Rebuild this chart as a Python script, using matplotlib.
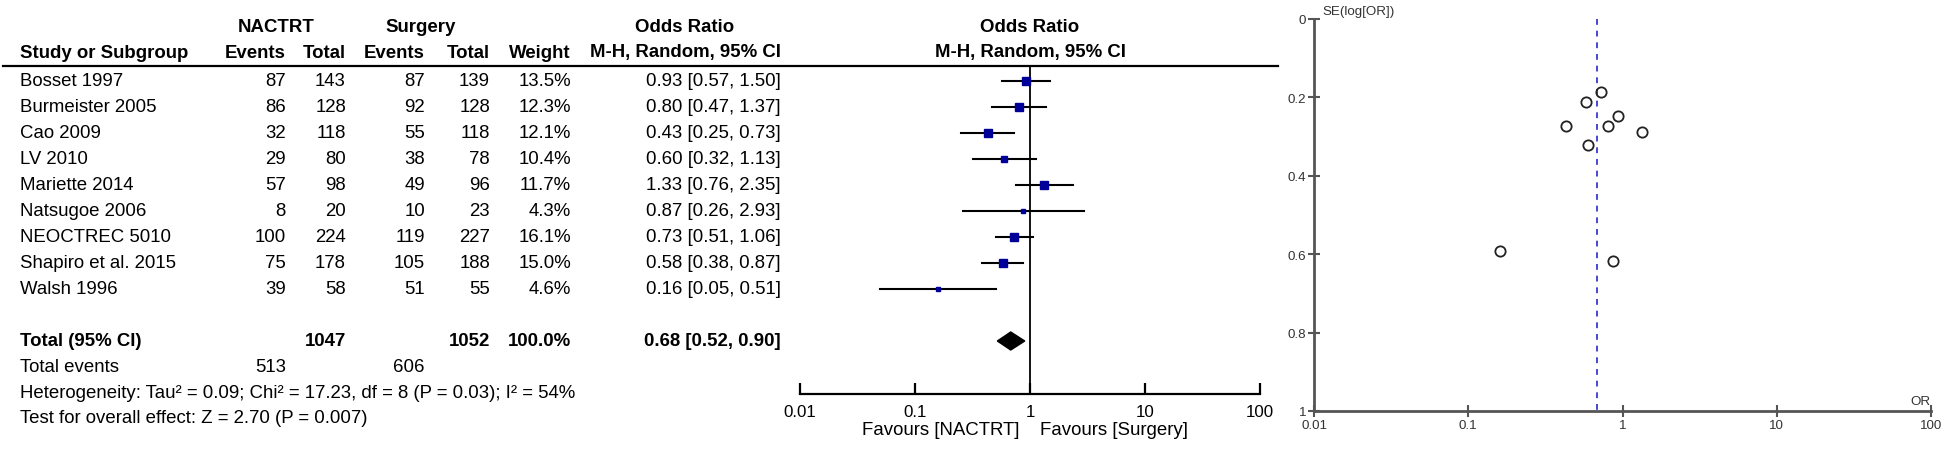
"""Forest plot + funnel plot: NACTRT vs surgery, odds ratios."""

import matplotlib

matplotlib.use("Agg")
import matplotlib.pyplot as plt
import numpy as np

plt.rcParams["font.family"] = ["Liberation Sans", "DejaVu Sans"]

STUDIES = [
    "Bosset 1997",
    "Burmeister 2005",
    "Cao 2009",
    "LV 2010",
    "Mariette 2014",
    "Natsugoe 2006",
    "NEOCTREC 5010",
    "Shapiro et al. 2015",
    "Walsh 1996",
]
NACTRT_EVENTS = [87, 86, 32, 29, 57, 8, 100, 75, 39]
NACTRT_TOTAL = [143, 128, 118, 80, 98, 20, 224, 178, 58]
SURGERY_EVENTS = [87, 92, 55, 38, 49, 10, 119, 105, 51]
SURGERY_TOTAL = [139, 128, 118, 78, 96, 23, 227, 188, 55]
WEIGHTS = [13.5, 12.3, 12.1, 10.4, 11.7, 4.3, 16.1, 15.0, 4.6]
ODDS_RATIO = [0.93, 0.80, 0.43, 0.60, 1.33, 0.87, 0.73, 0.58, 0.16]
CI_LOW = [0.57, 0.47, 0.25, 0.32, 0.76, 0.26, 0.51, 0.38, 0.05]
CI_HIGH = [1.50, 1.37, 0.73, 1.13, 2.35, 2.93, 1.06, 0.87, 0.51]
SE_LOG_OR = [0.247, 0.273, 0.273, 0.322, 0.288, 0.618, 0.187, 0.211, 0.592]

POOLED_OR = 0.68
POOLED_LOW = 0.52
POOLED_HIGH = 0.90
TOTAL_NACTRT = 1047
TOTAL_SURGERY = 1052
EVENTS_NACTRT = 513
EVENTS_SURGERY = 606
HETEROGENEITY = "Heterogeneity: Tau\u00b2 = 0.09; Chi\u00b2 = 17.23, df = 8 (P = 0.03); I\u00b2 = 54%"
OVERALL_EFFECT = "Test for overall effect: Z = 2.70 (P = 0.007)"

OR_TICKS = [0.01, 0.1, 1, 10, 100]
OR_TICK_LABELS = ["0.01", "0.1", "1", "10", "100"]
SE_TICKS = [0, 0.2, 0.4, 0.6, 0.8, 1]
SE_TICK_LABELS = ["0", "0.2", "0.4", "0.6", "0.8", "1"]

W, H = 1946, 452
FS = 13.4
BOX_COLOR = "#000099"


def fmt_ci(value, low, high):
    return f"{value:.2f} [{low:.2f}, {high:.2f}]"


fig = plt.figure(figsize=(W / 100, H / 100), dpi=100)
fig.patch.set_facecolor("white")

# full-figure axes in pixel coordinates for the table text
tab = fig.add_axes([0, 0, 1, 1])
tab.set_xlim(0, W)
tab.set_ylim(H, 0)
tab.axis("off")

row_y = [82 + 26 * i for i in range(len(STUDIES))]
total_y = 342
events_y = 368
het_y = 394
test_y = 419

# column anchors (right aligned)
col_ev1, col_tot1, col_ev2, col_tot2, col_w, col_or = 286, 346, 425, 490, 571, 781

bold = dict(fontsize=FS, fontweight="bold", va="center")
normal = dict(fontsize=FS, va="center")

tab.text(276, 28, "NACTRT", ha="center", **bold)
tab.text(421, 28, "Surgery", ha="center", **bold)
tab.text(685, 28, "Odds Ratio", ha="center", **bold)
tab.text(1030, 28, "Odds Ratio", ha="center", **bold)
tab.text(20, 53, "Study or Subgroup", ha="left", **bold)
tab.text(col_ev1, 53, "Events", ha="right", **bold)
tab.text(col_tot1, 53, "Total", ha="right", **bold)
tab.text(col_ev2, 53, "Events", ha="right", **bold)
tab.text(col_tot2, 53, "Total", ha="right", **bold)
tab.text(col_w, 53, "Weight", ha="right", **bold)
tab.text(col_or, 53, "M-H, Random, 95% CI", ha="right", **bold)
tab.text(1030, 53, "M-H, Random, 95% CI", ha="center", **bold)
tab.plot([3, 1278], [67, 67], color="black", lw=1.6)

for i, name in enumerate(STUDIES):
    y = row_y[i]
    tab.text(20, y, name, ha="left", **normal)
    tab.text(col_ev1, y, str(NACTRT_EVENTS[i]), ha="right", **normal)
    tab.text(col_tot1, y, str(NACTRT_TOTAL[i]), ha="right", **normal)
    tab.text(col_ev2, y, str(SURGERY_EVENTS[i]), ha="right", **normal)
    tab.text(col_tot2, y, str(SURGERY_TOTAL[i]), ha="right", **normal)
    tab.text(col_w, y, f"{WEIGHTS[i]:.1f}%", ha="right", **normal)
    tab.text(col_or, y, fmt_ci(ODDS_RATIO[i], CI_LOW[i], CI_HIGH[i]), ha="right", **normal)

tab.text(20, total_y, "Total (95% CI)", ha="left", **bold)
tab.text(col_tot1, total_y, str(TOTAL_NACTRT), ha="right", **bold)
tab.text(col_tot2, total_y, str(TOTAL_SURGERY), ha="right", **bold)
tab.text(col_w, total_y, f"{sum(WEIGHTS):.1f}%", ha="right", **bold)
tab.text(col_or, total_y, fmt_ci(POOLED_OR, POOLED_LOW, POOLED_HIGH), ha="right", **bold)
tab.text(20, events_y, "Total events", ha="left", **normal)
tab.text(col_ev1, events_y, str(EVENTS_NACTRT), ha="right", **normal)
tab.text(col_ev2, events_y, str(EVENTS_SURGERY), ha="right", **normal)
tab.text(20, het_y, HETEROGENEITY, ha="left", **normal)
tab.text(20, test_y, OVERALL_EFFECT, ha="left", **normal)

tab.text(1020, 431, "Favours [NACTRT]", ha="right", **normal)
tab.text(1040, 431, "Favours [Surgery]", ha="left", **normal)

# forest plot
fx0, fx1, fy_top, fy_bot = 800, 1260, 67, 395
forest = fig.add_axes([fx0 / W, 1 - fy_bot / H, (fx1 - fx0) / W, (fy_bot - fy_top) / H])
forest.set_xscale("log")
forest.set_xlim(0.01, 100)
forest.set_ylim(fy_bot, fy_top)
forest.patch.set_alpha(0)
for side in ["top", "left", "right"]:
    forest.spines[side].set_visible(False)
forest.spines["bottom"].set_linewidth(1.6)
forest.set_yticks([])
forest.set_xticks(OR_TICKS, labels=OR_TICK_LABELS)
forest.xaxis.set_minor_locator(matplotlib.ticker.NullLocator())
forest.tick_params(axis="x", direction="in", length=8, width=1.6, labelsize=12.2, pad=7)
forest.axvline(1, color="black", lw=1.3)

for i in range(len(STUDIES)):
    y = row_y[i]
    forest.plot([CI_LOW[i], CI_HIGH[i]], [y, y], color="black", lw=1.5, clip_on=False)
    side_px = 2.05 * np.sqrt(WEIGHTS[i])
    forest.plot(ODDS_RATIO[i], y, marker="s", ms=side_px * 0.72, color=BOX_COLOR,
                mec=BOX_COLOR, clip_on=False, zorder=3)

forest.fill([POOLED_LOW, POOLED_OR, POOLED_HIGH, POOLED_OR],
            [total_y, total_y - 9, total_y, total_y + 9], color="black", zorder=3)

# funnel plot
ux0, ux1, uy_top, uy_bot = 1314, 1931, 20, 412
funnel = fig.add_axes([ux0 / W, 1 - uy_bot / H, (ux1 - ux0) / W, (uy_bot - uy_top) / H])
funnel.set_xscale("log")
funnel.set_xlim(0.01, 100)
funnel.set_ylim(1, 0)
funnel.patch.set_alpha(0)
for side in ["top", "right"]:
    funnel.spines[side].set_visible(False)
for side in ["left", "bottom"]:
    funnel.spines[side].set_color("#555555")
    funnel.spines[side].set_linewidth(2)
funnel.set_xticks(OR_TICKS, labels=OR_TICK_LABELS)
funnel.set_yticks(SE_TICKS, labels=SE_TICK_LABELS)
funnel.xaxis.set_minor_locator(matplotlib.ticker.NullLocator())
funnel.tick_params(direction="inout", length=9, width=1.5, color="#555555",
                   labelsize=9.6, labelcolor="#333333", pad=1)
funnel.plot([POOLED_OR, POOLED_OR], [0, 1], color="#4747d1", lw=1.4, ls=(0, (3, 3)))
funnel.plot(ODDS_RATIO, SE_LOG_OR, "o", mfc="none", mec="#222222", ms=7.4, mew=1.3, clip_on=False)

tab.text(1322, 12, "SE(log[OR])", ha="left", va="center", fontsize=9.6, color="#333333")
tab.text(1920, 402, "OR", ha="center", va="center", fontsize=9.6, color="#333333")

fig.savefig("out.png", dpi=100)
